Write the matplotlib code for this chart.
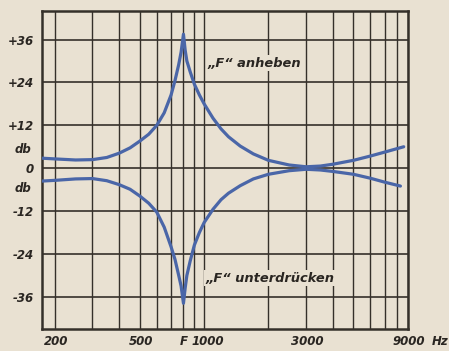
import numpy as np
import matplotlib.pyplot as plt

# Kurvenwerte (Frequenz in Hz, Pegel in db)
f_anheben = [174, 200, 250, 300, 350, 400, 450, 500, 550, 600, 650, 700, 730, 760, 780, 800,
             815, 830, 860, 900, 950, 1000, 1100, 1200, 1300, 1475, 1700, 2000, 2500,
             3000, 3500, 4000, 5000, 6000, 7000, 8600]
db_anheben = [2.8, 2.6, 2.3, 2.4, 3.0, 4.2, 5.7, 7.6, 9.5, 12.0, 15.5, 20.5, 24.5, 29.0, 32.5, 37.5,
              33.0, 30.0, 27.0, 23.5, 20.5, 18.0, 14.0, 11.0, 8.8, 6.2, 4.0, 2.2, 0.9,
              0.4, 0.6, 1.1, 2.2, 3.4, 4.5, 6.0]

f_unterdr = [174, 200, 250, 300, 350, 400, 450, 500, 550, 600, 650, 700, 730, 760, 780, 800,
             815, 830, 860, 900, 950, 1000, 1100, 1200, 1300, 1475, 1700, 2000, 2500,
             3000, 3500, 4000, 5000, 6000, 7000, 8300]
db_unterdr = [-3.6, -3.4, -3.0, -2.9, -3.5, -4.6, -5.9, -7.8, -9.8, -12.3, -16.5, -22.0, -25.5, -30.0, -33.0, -37.8,
              -33.5, -30.0, -26.0, -21.5, -18.0, -15.2, -11.5, -8.8, -7.0, -4.9, -3.0, -1.7, -0.7,
              -0.3, -0.5, -0.9, -1.7, -2.8, -3.9, -5.0]

x_grid = [200, 300, 400, 500, 600, 700, 800, 900, 1000,
          2000, 3000, 4000, 5000, 6000, 7000, 8000, 9000]
x_ticks = [200, 500, 800, 1000, 3000, 9000]
x_labels = ['200', '500', 'F', '1000', '3000', '9000']
y_ticks = [36, 24, 12, 0, -12, -24, -36]
y_labels = ['+36', '+24', '+12', '0', '-12', '-24', '-36']

paper = '#e9e1d2'
ink = '#35302a'
blue = '#4a66a8'

fig = plt.figure(figsize=(4.49, 3.51), dpi=100, facecolor=paper)
ax = fig.add_axes([0.0935, 0.0627, 0.815, 0.906], facecolor=paper)
ax.set_xscale('log')
ax.set_xlim(174, 9000)
ax.set_ylim(-45, 44)

for xv in x_grid:
    ax.axvline(xv, color=ink, lw=1.0, zorder=1)
for yv in y_ticks:
    ax.axhline(yv, color=ink, lw=1.2, zorder=1)

ax.plot(f_anheben, db_anheben, color=blue, lw=2.3, zorder=3,
        solid_capstyle='round', solid_joinstyle='round')
ax.plot(f_unterdr, db_unterdr, color=blue, lw=2.3, zorder=3,
        solid_capstyle='round', solid_joinstyle='round')

txt = dict(style='italic', fontweight='bold', color='#2a2622', fontsize=8.5)

# x-Beschriftung als Text, damit "F" und "1000" etwas Abstand haben
ax.set_xticks([])
ax.xaxis.set_minor_locator(plt.NullLocator())
shift = {'F': 1.0, '1000': 1.04}
for xv, lab in zip(x_ticks, x_labels):
    ax.text(xv * shift.get(lab, 1.01), -0.04, lab, transform=ax.get_xaxis_transform(),
            ha='center', va='center', **txt)

ax.set_yticks(y_ticks)
ax.set_yticklabels(y_labels, **txt)
ax.tick_params(length=0, pad=6)

# db-Beschriftungen um die Nulllinie
ax.text(-0.03, 5.2, 'db', transform=ax.get_yaxis_transform(), ha='right', va='center', **txt)
ax.text(-0.03, -5.6, 'db', transform=ax.get_yaxis_transform(), ha='right', va='center', **txt)
fig.text(0.962, 0.028, 'Hz', ha='left', va='center', **txt)

bb = dict(facecolor=paper, edgecolor='none', pad=1.0)
note = dict(txt, fontsize=9.4)
ax.text(1040, 29.4, '„F“ anheben', ha='left', va='center', bbox=bb, zorder=2, **note)
ax.text(1010, -30.8, '„F“ unterdrücken', ha='left', va='center', bbox=bb, zorder=2, **note)

for s in ax.spines.values():
    s.set_color(ink)
    s.set_linewidth(1.8)

fig.savefig('out.png', dpi=100, facecolor=paper)
